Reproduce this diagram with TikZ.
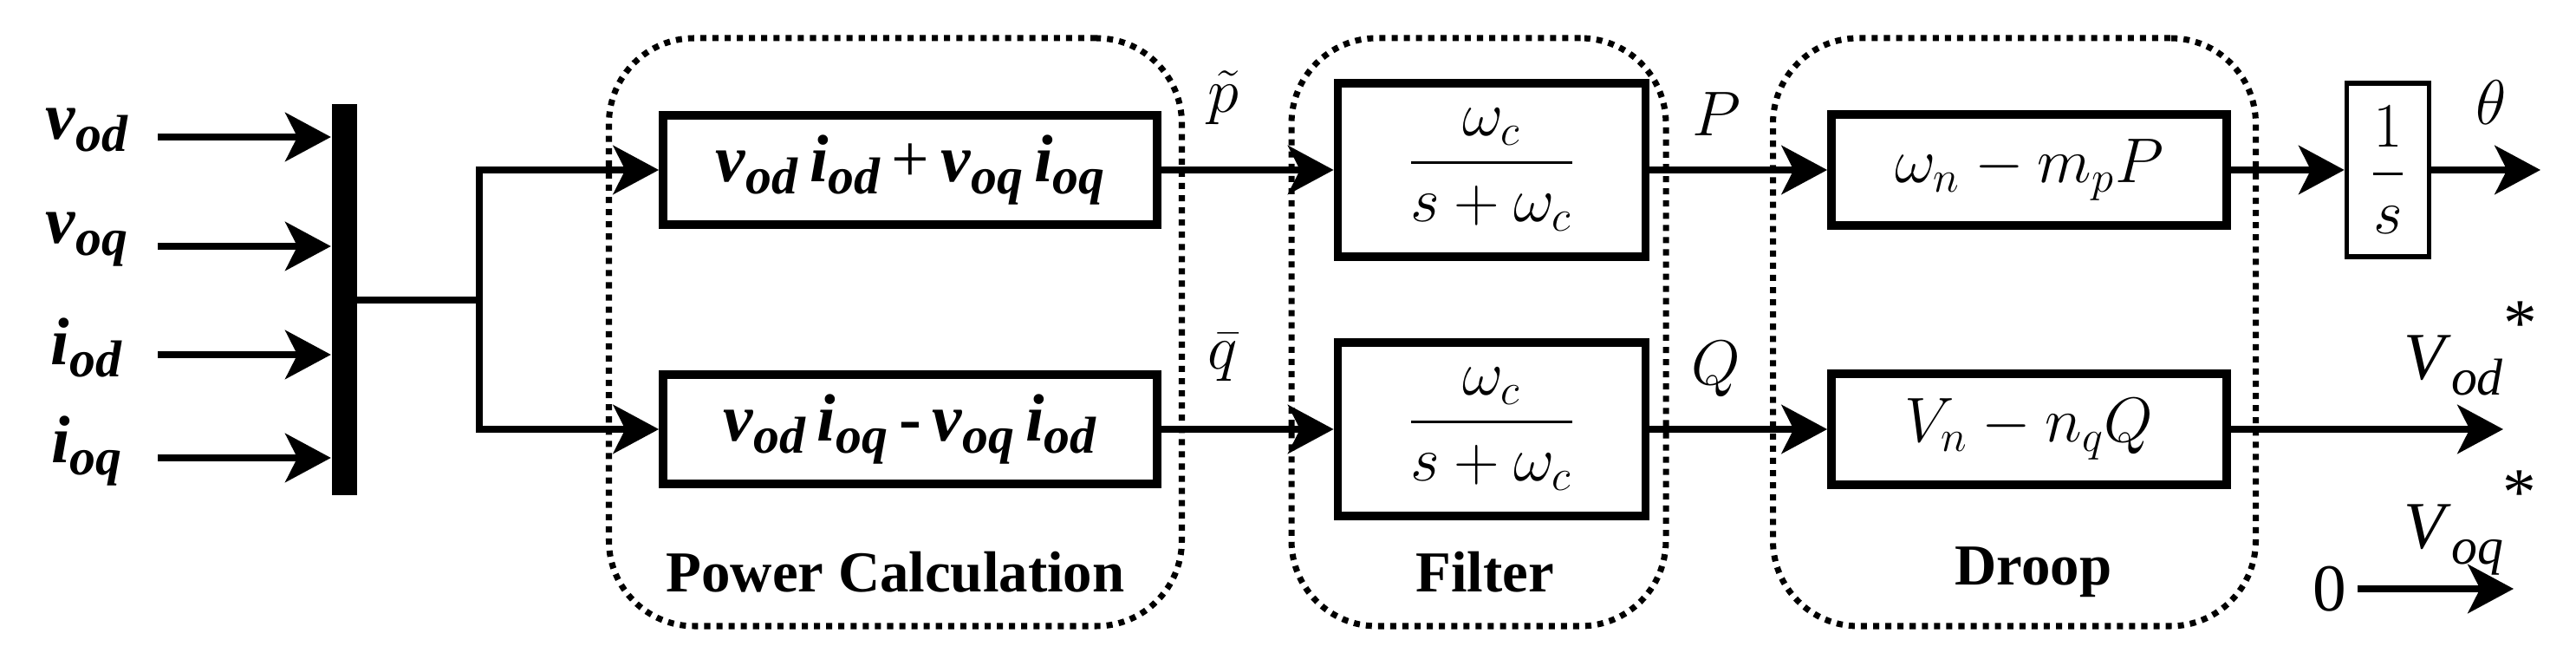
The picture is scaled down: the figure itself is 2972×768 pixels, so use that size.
\documentclass[tikz,border=0pt]{standalone}
\usepackage{amsmath}
\usepackage{fontspec}
\setmainfont{Liberation Serif}
\usetikzlibrary{arrows.meta}
\newcommand{\bi}[2]{\textbf{\textit{#1}}\raisebox{-0.4ex}{\fontsize{17}{18}\selectfont\textbf{\textit{#2}}}}
\begin{document}
\begin{tikzpicture}[x=0.01cm,y=-0.01cm,
  arr/.style={line width=2pt,-{Stealth[length=15pt,width=16pt,inset=4pt]}},
  blk/.style={draw,line width=2.8pt,inner sep=0pt},
  grp/.style={draw,line width=2pt,dotted,rounded corners=28pt},
  lbl/.style={font=\fontsize{22}{26}\selectfont},
  grpcap/.style={font=\fontsize{19}{22}\selectfont\bfseries}]
\useasboundingbox (0,0) rectangle (2972,768);
% groups
\node[grp,minimum width=661*0.01cm,minimum height=678*0.01cm] (gpc) at (1033,383) {};
\node[grp,minimum width=432*0.01cm,minimum height=678*0.01cm] (gf) at (1706,383) {};
\node[grp,minimum width=557*0.01cm,minimum height=678*0.01cm] (gd) at (2324,383) {};
\node[grpcap] (cpc) at (1033,660) {Power Calculation};
\node[grpcap] (cf) at (1713,660) {Filter};
\node[grpcap] (cd) at (2346,660) {Droop};
% bus
\node[fill=black,inner sep=0pt,minimum width=29*0.01cm,minimum height=451*0.01cm] (bus) at (397,346) {};
\foreach \y/\t/\n in {158/{\bi{v}{od}}/a,284/{\bi{v}{oq}}/b,409/{\bi{i}{od}}/c,528/{\bi{i}{oq}}/d}{
  \node[lbl] (l\n) at (100,\y-8) {\t};
  \coordinate (s\n) at (182,\y);
  \draw[arr] (s\n) -- (s\n -| bus.west);
}
\coordinate (br) at (553,346);
\coordinate (bt) at (553,196);
\coordinate (bb) at (553,495);
% blocks
\node[blk,lbl,minimum width=570*0.01cm,minimum height=126*0.01cm] (pc1) at (1050,196) {\bi{v}{od}\,\bi{i}{od}\,+\,\bi{v}{oq}\,\bi{i}{oq}};
\node[blk,lbl,minimum width=570*0.01cm,minimum height=126*0.01cm] (pc2) at (1050,495) {\bi{v}{od}\,\bi{i}{oq}\,\textbf{-}\,\bi{v}{oq}\,\bi{i}{od}};
\node[blk,lbl,minimum width=355*0.01cm,minimum height=200*0.01cm] (f1) at (1721,196) {$\dfrac{\omega_c}{s+\omega_c}$};
\node[blk,lbl,minimum width=355*0.01cm,minimum height=200*0.01cm] (f2) at (1721,495) {$\dfrac{\omega_c}{s+\omega_c}$};
\node[blk,lbl,minimum width=456*0.01cm,minimum height=128*0.01cm] (d1) at (2341,196) {$\omega_n-m_pP$};
\node[blk,lbl,minimum width=456*0.01cm,minimum height=128*0.01cm] (d2) at (2341,495) {$V_n-n_qQ$};
\node[draw,line width=1.6pt,lbl,inner sep=0pt,minimum width=95*0.01cm,minimum height=200*0.01cm] (int) at (2755,196) {$\dfrac{1}{s}$};
% connectors
\draw[line width=2pt] (bus.east |- br) -- (br);
\draw[arr] (br) -- (bt) -- (pc1.west);
\draw[arr] (br) -- (bb) -- (pc2.west);
\draw[arr] (pc1) -- (f1);
\draw[arr] (pc2) -- (f2);
\draw[arr] (f1) -- (d1);
\draw[arr] (f2) -- (d2);
\draw[arr] (d1) -- (int);
\coordinate (th) at (2931,196);
\draw[arr] (int) -- (th);
\coordinate (vd) at (2888,495);
\draw[arr] (d2) -- (vd);
\node[lbl] (zero) at (2688,679) {0};
\coordinate (vq) at (2900,679);
\draw[arr] (zero) -- (vq);
% labels
\node[lbl] (lp) at (1411,113) {$\tilde p$};
\node[lbl] (lq) at (1411,412) {$\bar q$};
\node[lbl] (lP) at (1980,132) {$P$};
\node[lbl] (lQ) at (1980,426) {$Q$};
\node[lbl] (lth) at (2874,118) {$\theta$};
\node[lbl] (lvd) at (2850,402) {\textit{V}\raisebox{-0.5ex}{\fontsize{17}{18}\selectfont\textit{od}}\raisebox{1.1ex}{*}};
\node[lbl] (lvq) at (2850,603) {\textit{V}\raisebox{-0.5ex}{\fontsize{17}{18}\selectfont\textit{oq}}\raisebox{1.1ex}{*}};
\end{tikzpicture}
\end{document}
